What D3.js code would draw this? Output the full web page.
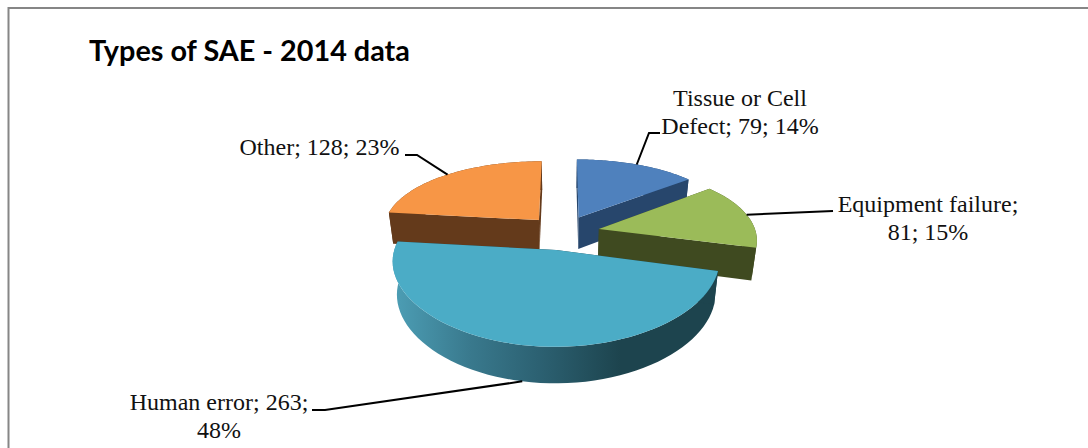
<!DOCTYPE html>
<html>
<head>
<meta charset="utf-8">
<script src="https://cdn.jsdelivr.net/npm/d3@7"></script>
<style>
  html, body { margin: 0; padding: 0; background: #fff; }
  svg { display: block; }
  .label { font-family: "Liberation Serif", serif; font-size: 24px; fill: #111; text-anchor: middle; }
  .title { font-family: Lato, sans-serif; font-weight: 700; font-size: 28.8px; fill: #000; }
</style>
</head>
<body>
<div id="chart"></div>
<script>
const categories = ["Tissue or Cell Defect", "Equipment failure", "Human error", "Other"];
const counts = [79, 81, 263, 128];
const percents = [14, 15, 48, 23];
const chartTitle = "Types of SAE - 2014 data";

const topColors = ["#4f81bd", "#9bbb59", "#4bacc6", "#f79646"];
const sideColors = ["#27466c", "#3f4a20", "#1d444e", "#643a1b"];

// label lines plus leader layout, one entry per category
const labelLines = [
  ["Tissue or Cell", "Defect; 79; 14%"],
  ["Equipment failure;", "81; 15%"],
  ["Human error; 263;", "48%"],
  ["Other; 128; 23%"]
];
const labelAnchors = [[740, 106], [928, 212], [219, 410], [319.5, 155]];
const leaderElbows = [
  [[660, 133], [649, 133]],
  [[833, 211]],
  [[312, 410], [325, 410]],
  [[405, 155], [417, 155]]
];

const width = 1088, height = 448;
const center = { x: 563, y: 232.5 };
const explode = 0.235, perspective = 0.174, perspectiveX = 0.13, depth = 32, bottomShrink = 0.975;

// plane coordinates of the pie to pixel offsets
const xScale = d3.scaleLinear().domain([-1, 1]).range([-157, 157]);
const yScale = d3.scaleLinear().domain([-1, 1]).range([-73, 73]);

function project(u, v, lower) {
  const w = 1 / (1 - perspective * v);
  const wx = 1 / (1 - perspectiveX * v);
  let x = center.x + xScale(u) * wx;
  let y = center.y + yScale(v) * w;
  if (lower) {
    x = center.x + (x - center.x) * bottomShrink;
    y += depth / (1 - 0.1 * v);
  }
  return [x, y];
}

const svg = d3.select("#chart").append("svg")
  .attr("width", width)
  .attr("height", height);

// frame: only left and top edges are inside the crop
svg.append("path")
  .attr("d", `M8.5,${height}V8H${width}`)
  .attr("fill", "none")
  .attr("stroke", "#868686")
  .attr("stroke-width", 2);

svg.append("text")
  .attr("class", "title")
  .attr("x", 89)
  .attr("y", 61)
  .text(chartTitle);

const defs = svg.append("defs");
const wallGradient = defs.append("linearGradient")
  .attr("id", "humanWall")
  .attr("gradientUnits", "userSpaceOnUse")
  .attr("x1", 392).attr("x2", 718)
  .attr("y1", 0).attr("y2", 0);
[[0, "#4d9fb6"], [0.24, "#39798d"], [0.45, "#2c6172"], [0.7, "#1d444e"], [1, "#1d444e"]]
  .forEach(s => wallGradient.append("stop").attr("offset", s[0]).attr("stop-color", s[1]));

const pie = d3.pie().sort(null).startAngle(0).endAngle(2 * Math.PI);
const slices = pie(counts).map((d, i) => {
  const a0 = d.startAngle - Math.PI / 2;
  const a1 = d.endAngle - Math.PI / 2;
  const mid = (a0 + a1) / 2;
  return { i, a0, a1, mid, ox: explode * Math.cos(mid), oy: explode * Math.sin(mid) };
});

const line = d3.line();

function rimPoints(s, lower) {
  return d3.range(0, 61).map(k => {
    const a = s.a0 + (s.a1 - s.a0) * k / 60;
    return project(s.ox + Math.cos(a), s.oy + Math.sin(a), lower);
  });
}

function rimPoint(s, a, lower) {
  return project(s.ox + Math.cos(a), s.oy + Math.sin(a), lower);
}

// back slices first so the near ones overlap them
const drawOrder = [0, 3, 1, 2];
drawOrder.forEach(i => {
  const s = slices[i];
  const g = svg.append("g").attr("class", "slice");
  const apexTop = project(s.ox, s.oy, false);
  const apexLow = project(s.ox, s.oy, true);
  const wallFill = i === 2 ? "url(#humanWall)" : sideColors[i];

  g.append("path")
    .attr("d", line(rimPoints(s, false).concat(rimPoints(s, true).reverse())) + "Z")
    .attr("fill", wallFill);

  [s.a0, s.a1].forEach(a => {
    g.append("path")
      .attr("d", line([apexTop, rimPoint(s, a, false), rimPoint(s, a, true), apexLow]) + "Z")
      .attr("fill", sideColors[i]);
  });

  g.append("path")
    .attr("d", line([apexTop].concat(rimPoints(s, false))) + "Z")
    .attr("fill", topColors[i]);
});

// leaders end on the rim at the middle of each slice
slices.forEach(s => {
  const onWall = s.i === 2;
  const end = rimPoint(s, s.mid, onWall);
  svg.append("path")
    .attr("d", line(leaderElbows[s.i].concat([end])))
    .attr("fill", "none")
    .attr("stroke", "#000")
    .attr("stroke-width", 2);
});

labelLines.forEach((lines, i) => {
  const t = svg.append("text")
    .attr("class", "label")
    .attr("x", labelAnchors[i][0])
    .attr("y", labelAnchors[i][1]);
  lines.forEach((l, k) => {
    t.append("tspan")
      .attr("x", labelAnchors[i][0])
      .attr("dy", k === 0 ? 0 : 27.5)
      .text(l);
  });
});
</script>
</body>
</html>
